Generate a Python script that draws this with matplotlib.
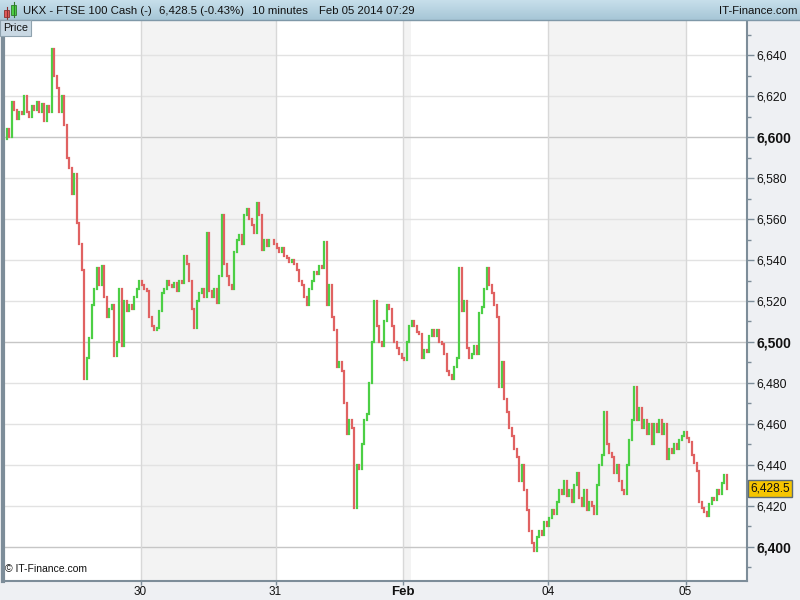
import numpy as np
import matplotlib.pyplot as plt
from matplotlib.collections import LineCollection
from matplotlib.colors import LinearSegmentedColormap
from matplotlib.patches import Rectangle
from matplotlib.lines import Line2D

plt.rcParams['font.family'] = ['Liberation Sans', 'DejaVu Sans']

# UKX - FTSE 100 Cash, 10 minute closes, one list per day
d29 = [6599, 6604, 6600, 6617, 6613, 6609, 6612, 6611, 6620, 6612,
       6610, 6615, 6613, 6617, 6612, 6616, 6608, 6615, 6612, 6643,
       6630, 6624, 6612, 6620, 6606, 6590, 6585, 6572, 6582, 6558,
       6548, 6535, 6482, 6492, 6502, 6518, 6526, 6536, 6528, 6537,
       6522, 6512, 6516, 6518, 6493, 6500, 6526, 6498, 6520, 6515,
       6518, 6516, 6522, 6526, 6530]
d30 = [6528, 6526, 6525, 6512, 6508, 6506, 6507, 6515, 6524, 6526,
       6530, 6528, 6527, 6529, 6525, 6530, 6529, 6542, 6538, 6530,
       6516, 6507, 6520, 6524, 6526, 6522, 6553, 6525, 6522, 6526,
       6519, 6532, 6562, 6538, 6532, 6528, 6526, 6544, 6550, 6552,
       6548, 6562, 6565, 6560, 6557, 6553, 6568, 6562, 6545, 6550,
       6547, 6550, 6550, 6548]
d31 = [6546, 6544, 6546, 6542, 6541, 6539, 6540, 6538, 6535, 6530,
       6528, 6522, 6518, 6526, 6530, 6534, 6533, 6537, 6536, 6549,
       6518, 6528, 6512, 6506, 6488, 6490, 6486, 6470, 6455, 6462,
       6458, 6419, 6440, 6438, 6450, 6462, 6465, 6480, 6500, 6520,
       6508, 6500, 6498, 6510, 6518, 6516, 6508, 6500, 6497, 6494,
       6492]
d02 = [6491, 6500, 6508]
d03 = [6510, 6508, 6505, 6504, 6492, 6496, 6495, 6503, 6506, 6503,
       6506, 6500, 6499, 6494, 6486, 6484, 6482, 6488, 6492, 6536,
       6515, 6520, 6497, 6492, 6494, 6498, 6494, 6514, 6517, 6526,
       6536, 6528, 6524, 6518, 6512, 6478, 6490, 6472, 6466, 6458,
       6454, 6448, 6444, 6432, 6440, 6428, 6418, 6408, 6402, 6398,
       6405, 6408, 6406, 6412, 6410]
d04 = [6414, 6418, 6416, 6422, 6428, 6426, 6432, 6425, 6428, 6422,
       6430, 6436, 6424, 6420, 6428, 6418, 6422, 6420, 6416, 6430,
       6440, 6445, 6466, 6450, 6446, 6444, 6436, 6440, 6432, 6428,
       6426, 6440, 6452, 6462, 6478, 6462, 6468, 6458, 6462, 6455,
       6460, 6450, 6460, 6456, 6462, 6455, 6460, 6443, 6448, 6446,
       6450, 6448, 6452, 6454, 6456]
d05 = [6453, 6451, 6445, 6441, 6437, 6422, 6419, 6417, 6415, 6421,
       6424, 6423, 6428, 6426, 6431, 6435, 6428.5]

day_labels = ['29', '30', '31', 'Feb', '03', '04', '05']
tick_days = ['30', '31', 'Feb', '04', '05']
price_ticks = list(range(6400, 6641, 20))
last_price = 6428.5

days = [d29, d30, d31, d02, d03, d04, d05]
closes = np.array(sum(days, []), dtype=float)
opens = np.r_[closes[0], closes[:-1]]
x = np.arange(len(closes))
bounds = np.cumsum([0] + [len(d) for d in days]) - 0.5

up = '#4ccf45'
down = '#e06262'
frame = '#7d8d99'
ink = '#111111'

fig = plt.figure(figsize=(8, 6), dpi=100)
fig.patch.set_facecolor('#eef0f3')
ax = fig.add_axes([3/800, 19/600, 744/800, 560/600])
ax.set_facecolor('white')

# alternating day shading
for i in range(len(days)):
    if i % 2 == 1:
        ax.axvspan(bounds[i], bounds[i+1], color='#f3f3f3', lw=0, zorder=0)

for v in price_ticks:
    ax.axhline(v, color='#c6c6c6' if v % 100 == 0 else '#e2e2e2', lw=1, zorder=1)

tick_pos = [bounds[day_labels.index(d)] for d in tick_days]
for p in tick_pos:
    ax.axvline(p, color='#d8d8d8', lw=1, zorder=1)

segs = [[(xi, o), (xi, c)] for xi, o, c in zip(x, opens, closes)]
cols = np.where(closes >= opens, up, down)
ax.add_collection(LineCollection(segs, colors=cols, linewidths=1.6,
                                 capstyle='projecting', zorder=3))

ax.set_xlim(-0.5, -0.5 + 744/2.5)
ax.set_ylim(6383.4, 6656.6)

for s in ['left', 'right', 'bottom']:
    ax.spines[s].set_color(frame)
    ax.spines[s].set_linewidth(1.5)
ax.spines['left'].set_linewidth(3)
ax.spines['top'].set_visible(False)

ax.yaxis.tick_right()
ax.set_yticks(price_ticks)
ax.set_yticklabels([f'{v:,}' for v in price_ticks])
ax.set_yticks(range(6390, 6651, 10), minor=True)
ax.tick_params(axis='y', which='major', length=5, width=1, color=frame,
               labelsize=8.8, pad=2, labelcolor=ink)
ax.tick_params(axis='y', which='minor', length=3, width=1, color=frame)
for lab, v in zip(ax.get_yticklabels(), price_ticks):
    if v % 100 == 0:
        lab.set_fontweight('bold')
        lab.set_fontsize(10)

ax.set_xticks(tick_pos)
ax.set_xticklabels(tick_days)
ax.tick_params(axis='x', length=3, width=1, color=frame, labelsize=8.5,
               pad=0.5, labelcolor=ink)
for lab in ax.get_xticklabels():
    if lab.get_text() == 'Feb':
        lab.set_fontweight('bold')
        lab.set_fontsize(9.5)

ax.text(1.004, last_price, f'{last_price:,.1f}', transform=ax.get_yaxis_transform(),
        ha='left', va='center', fontsize=8.6, color=ink, zorder=5,
        bbox=dict(boxstyle='square,pad=0.2', fc='#f6c500', ec='#5b6b76', lw=1),
        clip_on=False)

ax.text(0.003, 0.012, '© IT-Finance.com', transform=ax.transAxes,
        fontsize=7.5, color=ink, va='bottom', ha='left')

# header bar
hdr = fig.add_axes([0, 580/600, 1, 20/600])
grad = np.linspace(1, 0, 40).reshape(-1, 1)
cmap = LinearSegmentedColormap.from_list('hdr', ['#a6c6d6', '#c7dfeb'])
hdr.imshow(grad, aspect='auto', cmap=cmap, extent=[0, 1, 0, 1])
hdr.set_xlim(0, 1)
hdr.set_ylim(0, 1)
hdr.axis('off')
hdr.add_patch(Rectangle((4/800, 3/20), 5/800, 7/20, fc='#e05a5a', ec='#8a3030', lw=0.6))
hdr.add_patch(Rectangle((11/800, 5/20), 5/800, 10/20, fc='#4ccf45', ec='#2f7a2a', lw=0.6))
hdr.add_line(Line2D([6.5/800, 6.5/800], [1/20, 13/20], color='#8a3030', lw=0.8))
hdr.add_line(Line2D([13.5/800, 13.5/800], [3/20, 18/20], color='#2f7a2a', lw=0.8))
fig.add_artist(Line2D([0, 1], [580/600, 580/600], color='#7f98a8', lw=1))

hy = 589/600
hs = 8.2
fig.text(23/800, hy, 'UKX - FTSE 100 Cash (-)', fontsize=hs, va='center', color=ink)
fig.text(159/800, hy, '6,428.5 (-0.43%)', fontsize=hs, va='center', color=ink)
fig.text(252/800, hy, '10 minutes', fontsize=hs, va='center', color=ink)
fig.text(319/800, hy, 'Feb 05 2014 07:29', fontsize=hs, va='center', color=ink)
fig.text(797/800, hy, 'IT-Finance.com', fontsize=hs, va='center', ha='right', color=ink)

fig.text(3/800, 1 - 28/600, 'Price', fontsize=7.8, va='center', ha='left', color=ink,
         bbox=dict(boxstyle='square,pad=0.25', fc='#c9d8e3', ec='#8fa2ae', lw=0.8))

fig.savefig('out.png', dpi=100, facecolor=fig.get_facecolor())
